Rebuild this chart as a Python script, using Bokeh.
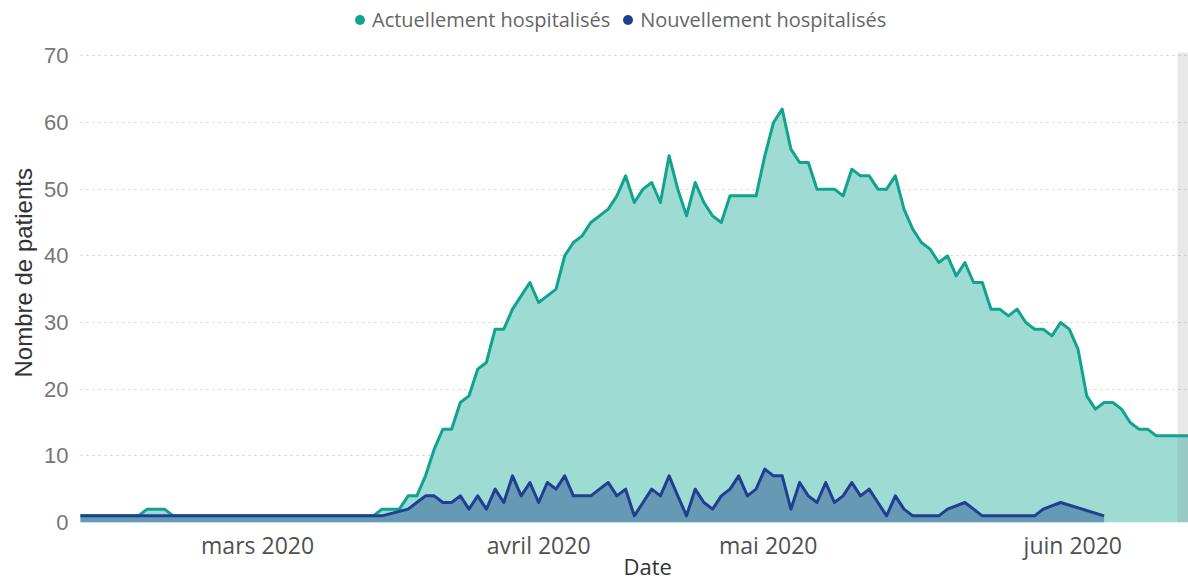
import math
from bokeh.plotting import figure
from bokeh.models import (ColumnDataSource, FixedTicker, Legend, LegendItem, Title,
                          BoxAnnotation, Range1d)
from bokeh.embed import file_html
from bokeh.resources import INLINE

# ---- data (one value per day on the chart's categorical day axis) ----
jour = list(range(129))

actuellement = [
    1, 1, 1, 1, 1, 1, 1, 1,
    2, 2, 2,
    1, 1, 1, 1, 1, 1, 1, 1, 1, 1, 1, 1, 1, 1, 1, 1, 1, 1, 1, 1, 1, 1, 1, 1,
    2, 2, 2, 4, 4, 7, 11, 14, 14, 18, 19, 23, 24, 29, 29, 32, 34, 36, 33, 34,
    35, 40, 42, 43, 45, 46, 47, 49, 52, 48, 50, 51, 48, 55, 50, 46, 51, 48, 46, 45,
    49, 49, 49, 49, 55, 60, 62, 56, 54, 54, 50, 50, 50, 49, 53, 52, 52, 50, 50, 52,
    47, 44, 42, 41, 39, 40, 37, 39, 36, 36, 32, 32, 31, 32, 30, 29, 29, 28, 30, 29,
    26, 19, 17, 18, 18, 17, 15, 14, 14, 13, 13, 13, 13, 13,
]

nouvellement = [
    1, 1, 1, 1, 1, 1, 1, 1, 1, 1, 1, 1, 1, 1, 1, 1, 1, 1, 1, 1,
    1, 1, 1, 1, 1, 1, 1, 1, 1, 1, 1, 1, 1, 1, 1,
    1, None, None, 2, 3, 4, 4, 3, 3, 4, 2, 4, 2, 5, 3, 7, 4, 6, 3, 6,
    5, 7, 4, 4, 4, 5, 6, 4, 5, 1, 3, 5, 4, 7, 4, 1, 5, 3, 2, 4,
    5, 7, 4, 5, 8, 7, 7, 2, 6, 4, 3, 6, 3, 4, 6, 4, 5, 3, 1, 4,
    2, 1, 1, 1, 1, 2, None, 3, 2, 1, 1, 1, 1, 1, 1, 1, 2, None, 3, None,
    None, None, None, 1, None, None, None, None, None, None, None, None, None, None,
]

mois_positions = [20.7, 53.0, 79.4, 114.4]
mois_labels = ["mars 2020", "avril 2020", "mai 2020", "juin 2020"]
y_ticks = [0, 10, 20, 30, 40, 50, 60, 70]

# ---- colours ----
TEAL_LINE = "#12A38E"
TEAL_FILL = "#9DDBD3"
BLUE_LINE = "#1F3F93"
BLUE_FILL = "#6699B4"

src_a = ColumnDataSource(dict(x=jour, y=actuellement))
nx = [d for d, v in zip(jour, nouvellement) if v is not None]
ny = [v for v in nouvellement if v is not None]
src_n = ColumnDataSource(dict(x=nx, y=ny))

p = figure(width=1188, height=580, output_backend="svg", toolbar_location=None,
           x_range=Range1d(0.345, 127.7), y_range=Range1d(0, 78.3),
           min_border_left=80, min_border_right=0, min_border_top=0,
           min_border_bottom=58)
p.outline_line_color = None
p.background_fill_color = "white"
p.border_fill_color = "white"

p.xgrid.visible = False
p.ygrid.grid_line_color = "#cdcdcd"
p.ygrid.grid_line_dash = "2 4"
p.ygrid.grid_line_width = 1

p.yaxis.ticker = FixedTicker(ticks=y_ticks)
p.xaxis.ticker = FixedTicker(ticks=mois_positions)
p.xaxis.major_label_overrides = {pos: lab for pos, lab in zip(mois_positions, mois_labels)}

for ax in (p.xaxis, p.yaxis):
    ax.axis_line_color = None
    ax.major_tick_line_color = None
    ax.minor_tick_line_color = None
    ax.major_tick_out = 0
    ax.major_tick_in = 0

p.yaxis.major_label_text_font = "Liberation Sans"
p.yaxis.major_label_text_font_size = "22px"
p.yaxis.major_label_text_color = "#777777"
p.yaxis.major_label_standoff = 12

p.xaxis.major_label_text_font = "Open Sans"
p.xaxis.major_label_text_font_size = "23px"
p.xaxis.major_label_text_color = "#505050"
p.xaxis.major_label_standoff = 6

# areas
p.varea(x="x", y1=0, y2="y", source=src_a, fill_color=TEAL_FILL)
p.varea(x="x", y1=0, y2="y", source=src_n, fill_color=BLUE_FILL)
# lines
p.line(x="x", y="y", source=src_a, line_color=TEAL_LINE, line_width=3, line_join="round")
p.line(x="x", y="y", source=src_n, line_color=BLUE_LINE, line_width=3, line_join="round")

# scrollbar-like grey band at right edge
p.add_layout(BoxAnnotation(left=126.44, top=70.5, bottom=0, fill_color="#808080",
                           fill_alpha=0.18, line_color=None))

# legend proxies: zero-size markers on the series (only the legend shows a dot)
r1 = p.scatter(x="x", y="y", source=src_a, marker="circle", size=0,
               fill_color=TEAL_LINE, line_color=None)
r2 = p.scatter(x="x", y="y", source=src_n, marker="circle", size=0,
               fill_color=BLUE_LINE, line_color=None)
legend = Legend(items=[LegendItem(label="Actuellement hospitalisés", renderers=[r1]),
                       LegendItem(label="Nouvellement hospitalisés", renderers=[r2])],
                orientation="horizontal", location=(267, 489),
                glyph_width=25, glyph_height=25, label_standoff=-6, spacing=5,
                padding=0, margin=0, border_line_color=None, background_fill_alpha=0,
                label_text_font="Open Sans", label_text_font_size="20px",
                label_text_color="#666666", label_text_baseline="middle")
p.add_layout(legend)

# axis titles
p.add_layout(Title(text="Nombre de patients", align="left", offset=145, standoff=10,
                   text_font="Liberation Sans", text_font_size="24px",
                   text_font_style="normal", text_color="#333333"), "left")
p.add_layout(Title(text="Date", align="left", offset=543, standoff=-34,
                   text_font="Open Sans", text_font_size="22px",
                   text_font_style="normal", text_color="#333333"), "below")

open("out.html", "w").write(file_html(p, INLINE))
